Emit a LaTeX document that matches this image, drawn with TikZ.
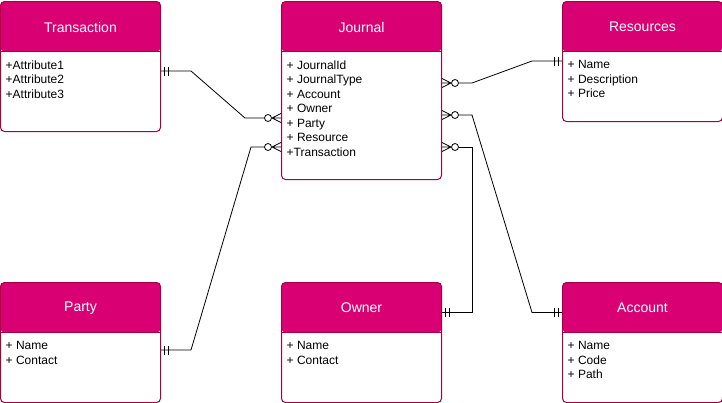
\documentclass[tikz,border=0pt]{standalone}
\usepackage{fontspec}
\setmainfont{Liberation Sans}
\usepackage{xcolor}
\usepackage{tikz}
\usetikzlibrary{positioning}

\definecolor{erhead}{HTML}{D80073}
\definecolor{erline}{HTML}{A50040}

% mandatory one: two bars
\pgfdeclarearrow{
  name = ERone,
  setup code = {
    \pgfarrowssettipend{0pt}
    \pgfarrowssetlineend{0pt}
    \pgfarrowssetbackend{-9pt}
    \pgfarrowsupperhullpoint{0pt}{5pt}
    \pgfarrowsupperhullpoint{-9pt}{5pt}
  },
  drawing code = {
    \pgfpathmoveto{\pgfqpoint{-3.5pt}{-4.5pt}}
    \pgfpathlineto{\pgfqpoint{-3.5pt}{4.5pt}}
    \pgfpathmoveto{\pgfqpoint{-7.5pt}{-4.5pt}}
    \pgfpathlineto{\pgfqpoint{-7.5pt}{4.5pt}}
    \pgfusepathqstroke
  }
}
% zero or many: circle and crow's foot
\pgfdeclarearrow{
  name = ERmany,
  setup code = {
    \pgfarrowssettipend{0pt}
    \pgfarrowssetlineend{-16.5pt}
    \pgfarrowssetbackend{-17pt}
    \pgfarrowsupperhullpoint{0pt}{5pt}
    \pgfarrowsupperhullpoint{-17pt}{4pt}
  },
  drawing code = {
    \pgfpathmoveto{\pgfqpoint{0pt}{4.5pt}}
    \pgfpathlineto{\pgfqpoint{-9pt}{0pt}}
    \pgfpathlineto{\pgfqpoint{0pt}{-4.5pt}}
    \pgfpathmoveto{\pgfqpoint{-9.5pt}{0pt}}
    \pgfpathlineto{\pgfqpoint{0pt}{0pt}}
    \pgfpathcircle{\pgfqpoint{-13pt}{0pt}}{3.5pt}
    \pgfusepathqstroke
  }
}

\tikzset{
  entity/.style={draw=erline, fill=white, line width=1pt, rounded corners=4pt,
    minimum width=160pt, minimum height=#1, inner sep=0pt,
    path picture={
      \fill[erhead] (path picture bounding box.north west) rectangle
        ([yshift=-50pt]path picture bounding box.north east);
      \draw[erline, line width=1pt] ([yshift=-50pt]path picture bounding box.north west) --
        ([yshift=-50pt]path picture bounding box.north east);
    }},
  title/.style={text=white, inner sep=0pt, font=\fontsize{14pt}{16pt}\selectfont},
  attrs/.style={anchor=north west, align=left, inner sep=0pt,
    font=\fontsize{12pt}{14.5pt}\selectfont},
  rel/.style={ERone-ERmany, line width=0.8pt}
}

\begin{document}
\begin{tikzpicture}
  \useasboundingbox (0,0) rectangle (722pt,-402pt);

  \node[entity=178pt, anchor=north west]                       (journal) at (281pt,-1pt) {};
  \node[entity=130pt, left=120pt of journal.north west, anchor=north east]  (trans) {};
  \node[entity=120pt, right=120pt of journal.north east, anchor=north west] (res) {};
  \node[entity=120pt, below=102pt of journal]                  (owner) {};
  \node[entity=120pt, left=120pt of owner]                     (party) {};
  \node[entity=120pt, right=120pt of owner]                    (acc) {};

  \node[title] (journalT) at ([yshift=-26pt]journal.north) {Journal};
  \node[title] (transT)   at ([yshift=-26pt]trans.north)   {Transaction};
  \node[title] (resT)     at ([yshift=-26pt]res.north)     {Resources};
  \node[title] (ownerT)   at ([yshift=-26pt]owner.north)   {Owner};
  \node[title] (partyT)   at ([yshift=-26pt]party.north)   {Party};
  \node[title] (accT)     at ([yshift=-26pt]acc.north)     {Account};

  \node[attrs] (journalA) at ([xshift=5.5pt,yshift=-59.5pt]journal.north west)
    {+ JournalId\\+ JournalType\\+ Account\\+ Owner\\+ Party\\+ Resource\\+Transaction};
  \node[attrs] (transA) at ([xshift=5.5pt,yshift=-59.5pt]trans.north west)
    {+Attribute1\\+Attribute2\\+Attribute3};
  \node[attrs] (resA) at ([xshift=5.5pt,yshift=-59.5pt]res.north west)
    {+ Name\\+ Description\\+ Price};
  \node[attrs] (ownerA) at ([xshift=5.5pt,yshift=-59.5pt]owner.north west)
    {+ Name\\+ Contact};
  \node[attrs] (partyA) at ([xshift=5.5pt,yshift=-59.5pt]party.north west)
    {+ Name\\+ Contact};
  \node[attrs] (accA) at ([xshift=5.5pt,yshift=-59.5pt]acc.north west)
    {+ Name\\+ Code\\+ Path};

  \draw[rel] ([yshift=-70pt]trans.north east) -- ++(30pt,0)
    -- ([xshift=-36pt,yshift=-117pt]journal.north west) -- ([yshift=-117pt]journal.north west);
  \draw[rel] ([yshift=-68pt]party.north east) -- ++(30pt,0)
    -- ([xshift=-30pt,yshift=-146pt]journal.north west) -- ([yshift=-146pt]journal.north west);
  \draw[rel] ([yshift=-60pt]res.north west) -- ++(-30pt,0)
    -- ([xshift=30pt,yshift=-82pt]journal.north east) -- ([yshift=-82pt]journal.north east);
  \draw[rel] ([yshift=-30.5pt]acc.north west) -- ++(-30pt,0)
    -- ([xshift=30pt,yshift=-114pt]journal.north east) -- ([yshift=-114pt]journal.north east);
  \draw[rel] ([yshift=-30.5pt]owner.north east) -- ++(30pt,0)
    |- ([yshift=-146pt]journal.north east);
\end{tikzpicture}
\end{document}
